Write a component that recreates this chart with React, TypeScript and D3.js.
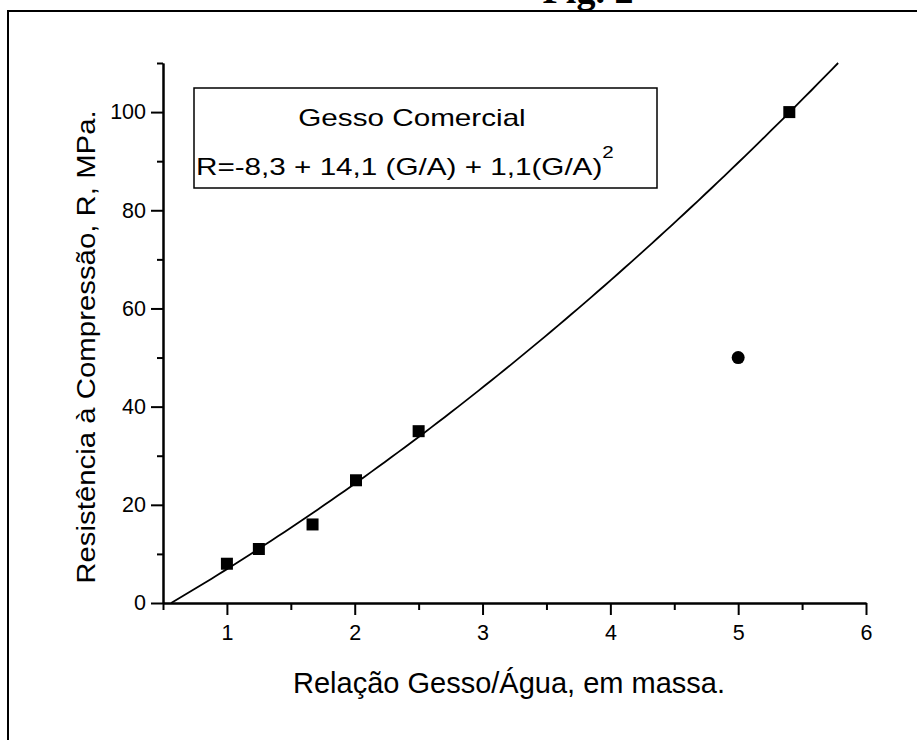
import { useRef, useEffect } from 'react';
import * as d3 from 'd3';

// measured points (Relação G/A vs Resistência)
const squareX = [1.0, 1.25, 1.67, 2.01, 2.5, 5.4];
const squareY = [8, 11, 16, 25, 35, 100];
const circleX = [5.0];
const circleY = [50];

// fit R = a + b (G/A) + c (G/A)^2 as printed in the legend
const fitCoefficients = [-8.3, 14.1, 1.1];

const xMajorTicks = [1, 2, 3, 4, 5, 6];
const xMinorTicks = [0.5, 1.5, 2.5, 3.5, 4.5, 5.5];
const yMajorTicks = [0, 20, 40, 60, 80, 100];
const yMinorTicks = [10, 30, 50, 70, 90, 110];

const FONT = '"Liberation Sans", Arial, sans-serif';

function App() {
    const ref = useRef<SVGSVGElement>(null);

    useEffect(() => {
        const svg = d3.select(ref.current);
        svg.selectAll('*').remove();

        const x = d3.scaleLinear().domain([0.5, 6]).range([163, 866]);
        const y = d3.scaleLinear().domain([0, 110]).range([603, 63]);

        // page frame
        svg.append('rect')
            .attr('x', 8).attr('y', 11)
            .attr('width', 1000).attr('height', 1000)
            .attr('fill', 'none').attr('stroke', '#000').attr('stroke-width', 2);

        // figure caption, cut by the top edge like the scan
        svg.append('text')
            .attr('x', 588).attr('y', 3)
            .attr('text-anchor', 'middle')
            .style('font-family', '"Liberation Serif", "Times New Roman", serif')
            .style('font-weight', 'bold')
            .style('font-size', '38px')
            .text('Fig. 2');

        // axes
        const styleAxis = (g: any) => {
            g.select('.domain').attr('stroke-width', 2);
            g.selectAll('.tick line').attr('stroke-width', 2);
            g.selectAll('text').style('font-family', FONT).style('font-size', '21.5px').attr('fill', '#000');
        };

        svg.append('g')
            .attr('transform', `translate(0,${y(0)})`)
            .call(d3.axisBottom(x).tickValues(xMinorTicks).tickSize(7).tickSizeOuter(0).tickFormat(() => ''))
            .call(styleAxis);
        svg.append('g')
            .attr('transform', `translate(0,${y(0)})`)
            .call(d3.axisBottom(x).tickValues(xMajorTicks).tickSize(12).tickSizeOuter(0).tickPadding(10).tickFormat(d3.format('d')))
            .call(styleAxis);

        svg.append('g')
            .attr('transform', `translate(${x(0.5)},0)`)
            .call(d3.axisLeft(y).tickValues(yMinorTicks).tickSize(6).tickSizeOuter(0).tickFormat(() => ''))
            .call(styleAxis);
        svg.append('g')
            .attr('transform', `translate(${x(0.5)},0)`)
            .call(d3.axisLeft(y).tickValues(yMajorTicks).tickSize(12).tickSizeOuter(0).tickPadding(5).tickFormat(d3.format('d')))
            .call(styleAxis);

        // axis titles
        svg.append('text')
            .attr('x', 509).attr('y', 693)
            .attr('text-anchor', 'middle')
            .style('font-family', FONT).style('font-size', '29px')
            .text('Relação Gesso/Água, em massa.');

        svg.append('text')
            .attr('transform', 'translate(95,347) rotate(-90) scale(1.13,1)')
            .attr('text-anchor', 'middle')
            .style('font-family', FONT).style('font-size', '26px')
            .text('Resistência à Compressão, R, MPa.');

        // fitted curve, from R = 0 up to the top of the axis
        const [a, b, c] = fitCoefficients;
        const fit = (v: number) => a + b * v + c * v * v;
        const x0 = (-b + Math.sqrt(b * b - 4 * c * a)) / (2 * c);
        const x1 = (-b + Math.sqrt(b * b - 4 * c * (a - 110))) / (2 * c);
        const curve = d3.range(0, 101).map(i => x0 + (x1 - x0) * i / 100);
        svg.append('path')
            .datum(curve)
            .attr('d', d3.line<number>().x(d => x(d)).y(d => y(fit(d))))
            .attr('fill', 'none').attr('stroke', '#000').attr('stroke-width', 1.8);

        // markers
        svg.selectAll('rect.pt')
            .data(d3.zip(squareX, squareY))
            .enter()
            .append('rect')
            .attr('class', 'pt')
            .attr('x', d => x(d[0]) - 6).attr('y', d => y(d[1]) - 6)
            .attr('width', 12).attr('height', 12)
            .attr('fill', '#000');

        svg.selectAll('circle.pt')
            .data(d3.zip(circleX, circleY))
            .enter()
            .append('circle')
            .attr('class', 'pt')
            .attr('cx', d => x(d[0])).attr('cy', d => y(d[1]))
            .attr('r', 6.5)
            .attr('fill', '#000');

        // legend box
        svg.append('rect')
            .attr('x', 194).attr('y', 88)
            .attr('width', 463).attr('height', 100)
            .attr('fill', 'none').attr('stroke', '#000').attr('stroke-width', 1.5);

        svg.append('text')
            .attr('transform', 'translate(412,126) scale(1.29,1)')
            .attr('text-anchor', 'middle')
            .style('font-family', FONT).style('font-size', '23px')
            .text('Gesso Comercial');

        const eq = svg.append('text')
            .attr('transform', 'translate(196,175) scale(1.29,1)')
            .style('font-family', FONT).style('font-size', '23px');
        eq.append('tspan').text('R=-8,3 + 14,1 (G/A) + 1,1(G/A)');
        eq.append('tspan').attr('dy', -17).style('font-size', '16px').text('2');
    }, []);

    return (
        <div style={{ position: 'absolute', left: 0, top: 0 }}>
            <svg ref={ref} width={917} height={740} style={{ display: 'block', background: '#fff' }} />
        </div>
    );
}

export default App;
